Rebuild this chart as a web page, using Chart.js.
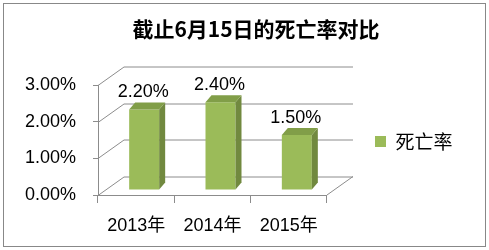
<!DOCTYPE html>
<html>
<head>
<meta charset="utf-8">
<script src="https://cdn.jsdelivr.net/npm/chart.js@4/dist/chart.umd.min.js"></script>
<style>
  html, body { margin: 0; padding: 0; background: #fff; }
  #wrap { position: relative; width: 489px; height: 250px; }
  #frame { position: absolute; left: 3px; top: 3px; width: 483px; height: 244px; box-sizing: border-box; border: 1px solid #888; pointer-events: none; }
  canvas { position: absolute; left: 0; top: 0; }
</style>
</head>
<body>
<div id="wrap">
  <canvas id="rateChart" width="489" height="250"></canvas>
  <div id="frame"></div>
</div>
<script>
// data
const categories = ['2013年', '2014年', '2015年'];
const deathRate = [2.2, 2.4, 1.5];
const seriesName = '死亡率';
const yMin = 0, yMax = 3, yStep = 1;

// 3D look (Excel style)
const WALL = { dx: 26, dy: -18.5 };
const BAR_SHIFT = { dx: 8, dy: -5 };
const BAR_DEPTH = { dx: 6, dy: -7 };
const FRONT = '#9BBB59', SIDE = '#71893F', TOP = '#819E48';
const LINE = '#8C8C8C';
// legend sits a gap away from the plot, title is centred a bit right
const LEGEND_GAP = 38, LEGEND_DY = 1.5, TITLE_SHIFT = 41.75;

const pct = v => Number(v).toFixed(2) + '%';

Chart.defaults.font.family = "'Liberation Sans', 'Noto Sans CJK SC', sans-serif";
Chart.defaults.color = '#000';

const moveBoxes = {
    id: 'moveBoxes',
    afterLayout(chart) {
        const lg = chart.legend;
        lg.left += LEGEND_GAP; lg.right += LEGEND_GAP;
        lg.top += LEGEND_DY; lg.bottom += LEGEND_DY;
        const tb = chart.titleBlock;
        tb.left += TITLE_SHIFT; tb.right += TITLE_SHIFT;
    }
};

const box3d = {
    id: 'box3d',
    beforeDatasetsDraw(chart) {
        const ctx = chart.ctx;
        const { left, right, bottom } = chart.chartArea;
        const ys = chart.scales.y;
        ctx.save();
        ctx.strokeStyle = LINE;
        ctx.lineWidth = 1;
        ys.ticks.forEach(t => {
            const py = Math.round(ys.getPixelForValue(t.value)) + 0.5;
            ctx.beginPath();
            ctx.moveTo(left, py);
            ctx.lineTo(left + WALL.dx, py + WALL.dy);
            ctx.lineTo(right + WALL.dx, py + WALL.dy);
            ctx.stroke();
        });
        // floor right edge
        ctx.beginPath();
        ctx.moveTo(right, bottom);
        ctx.lineTo(right + WALL.dx, bottom + WALL.dy);
        ctx.stroke();
        ctx.restore();

        // bars sit a bit behind the front plane
        ctx.save();
        ctx.translate(BAR_SHIFT.dx, BAR_SHIFT.dy);
    },
    afterDatasetsDraw(chart) {
        const ctx = chart.ctx;
        const meta = chart.getDatasetMeta(0);
        meta.data.forEach(el => {
            const { x, y, base, width } = el.getProps(['x', 'y', 'base', 'width'], true);
            const l = x - width / 2, r = x + width / 2;
            // side face
            ctx.fillStyle = SIDE;
            ctx.beginPath();
            ctx.moveTo(r, y);
            ctx.lineTo(r + BAR_DEPTH.dx, y + BAR_DEPTH.dy);
            ctx.lineTo(r + BAR_DEPTH.dx, base + BAR_DEPTH.dy);
            ctx.lineTo(r, base);
            ctx.closePath();
            ctx.fill();
            // top face
            ctx.fillStyle = TOP;
            ctx.beginPath();
            ctx.moveTo(l, y);
            ctx.lineTo(l + BAR_DEPTH.dx, y + BAR_DEPTH.dy);
            ctx.lineTo(r + BAR_DEPTH.dx, y + BAR_DEPTH.dy);
            ctx.lineTo(r, y);
            ctx.closePath();
            ctx.fill();
        });
        ctx.restore();

        // value labels
        ctx.save();
        ctx.font = "18px 'Liberation Sans', sans-serif";
        ctx.fillStyle = '#000';
        ctx.textAlign = 'center';
        ctx.textBaseline = 'middle';
        meta.data.forEach((el, i) => {
            const { x, y } = el.getProps(['x', 'y'], true);
            ctx.fillText(pct(chart.data.datasets[0].data[i]), x + BAR_SHIFT.dx - 1, y + BAR_SHIFT.dy - 17.5);
        });
        ctx.restore();
    }
};

const rateChart = new Chart(document.getElementById('rateChart'), {
    type: 'bar',
    data: {
        labels: categories,
        datasets: [{
            label: seriesName,
            data: deathRate,
            backgroundColor: FRONT,
            borderWidth: 0,
            barPercentage: 0.393,
            categoryPercentage: 1,
            clip: false
        }]
    },
    options: {
        responsive: false,
        animation: false,
        events: [],
        layout: { padding: { left: 4, right: 64.5, top: 0, bottom: 0 } },
        plugins: {
            title: {
                display: true,
                text: '截止6月15日的死亡率对比',
                color: '#000',
                font: { family: "'Noto Sans CJK SC', sans-serif", size: 21, weight: 'bold' },
                padding: { top: 16, bottom: 44 }
            },
            legend: {
                position: 'right',
                fullSize: false,
                labels: {
                    boxWidth: 11,
                    boxHeight: 11,
                    padding: 10,
                    color: '#000',
                    font: { family: "'Noto Sans CJK SC', sans-serif", size: 19 }
                }
            },
            tooltip: { enabled: false }
        },
        scales: {
            x: {
                grid: { drawOnChartArea: false, drawTicks: true, tickLength: 8, color: LINE },
                border: { display: true, color: LINE },
                ticks: { font: { size: 18 }, padding: 12 },
                afterFit(scale) { scale.height = 55; }
            },
            y: {
                min: yMin,
                max: yMax,
                grid: { drawOnChartArea: false, drawTicks: true, tickLength: 5, color: LINE },
                border: { display: true, color: LINE },
                ticks: { stepSize: yStep, font: { size: 18 }, padding: 17, callback: v => pct(v) },
                afterFit(scale) { scale.width = 94; }
            }
        }
    },
    plugins: [moveBoxes, box3d]
});
</script>
</body>
</html>
